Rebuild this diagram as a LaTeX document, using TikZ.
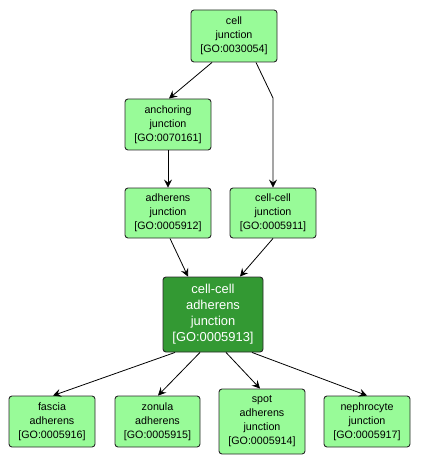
\documentclass[tikz,border=0pt]{standalone}
\usepackage{fontspec}
\setmainfont{Liberation Sans}
\usetikzlibrary{arrows.meta}
\definecolor{lgreen}{RGB}{152,251,152}
\definecolor{dgreen}{RGB}{51,153,51}
\definecolor{edgecol}{RGB}{40,40,40}
\begin{document}
\begin{tikzpicture}[x=1pt,y=-1pt,
  term/.style={draw=edgecol,line width=0.9pt,rounded corners=3pt,fill=lgreen,
    inner sep=0pt,align=center,font=\fontsize{10.7}{14}\selectfont},
  hub/.style={term,fill=dgreen,text=white,font=\fontsize{12.9}{16}\selectfont},
  link/.style={draw=black,line width=0.8pt,-{Stealth[length=8pt,width=8pt,inset=3pt]}}]
\useasboundingbox (0,0) rectangle (420,465);
\node[term,minimum width=86pt,minimum height=52pt] (cj) at (234,36) {cell\\junction\\{[GO:0030054]}};
\node[term,minimum width=86pt,minimum height=51pt] (aj) at (168,124.5) {anchoring\\junction\\{[GO:0070161]}};
\node[term,minimum width=86pt,minimum height=50pt] (adj) at (168,213) {adherens\\junction\\{[GO:0005912]}};
\node[term,minimum width=86pt,minimum height=50pt] (ccj) at (273,213) {cell-cell\\junction\\{[GO:0005911]}};
\node[hub,minimum width=100pt,minimum height=75pt] (cca) at (213,314.5) {cell-cell\\adherens\\junction\\{[GO:0005913]}};
\node[term,minimum width=86pt,minimum height=51pt] (fa) at (52,421.5) {fascia\\adherens\\{[GO:0005916]}};
\node[term,minimum width=85pt,minimum height=51pt] (za) at (157.5,421.5) {zonula\\adherens\\{[GO:0005915]}};
\node[term,minimum width=86pt,minimum height=65pt] (sa) at (262,421.5) {spot\\adherens\\junction\\{[GO:0005914]}};
\node[term,minimum width=86pt,minimum height=51pt] (nj) at (367,421.5) {nephrocyte\\junction\\{[GO:0005917]}};
\coordinate (bend) at (273,98);
\draw[link] ([xshift=-22pt]cj.south) -- ([xshift=1pt]aj.north);
\draw[link] ([xshift=22pt]cj.south) -- (bend) -- (ccj.north);
\draw[link] (aj.south) -- (adj.north);
\draw[link] ([xshift=2pt]adj.south) -- ([xshift=-25pt]cca.north);
\draw[link] (ccj.south) -- ([xshift=27pt]cca.north);
\draw[link] ([xshift=-38pt]cca.south) -- ([xshift=1pt]fa.north);
\draw[link] ([xshift=-13pt]cca.south) -- ([xshift=0.5pt]za.north);
\draw[link] ([xshift=13pt]cca.south) -- ([xshift=-2pt]sa.north);
\draw[link] ([xshift=39pt]cca.south) -- (nj.north);
\end{tikzpicture}
\end{document}
